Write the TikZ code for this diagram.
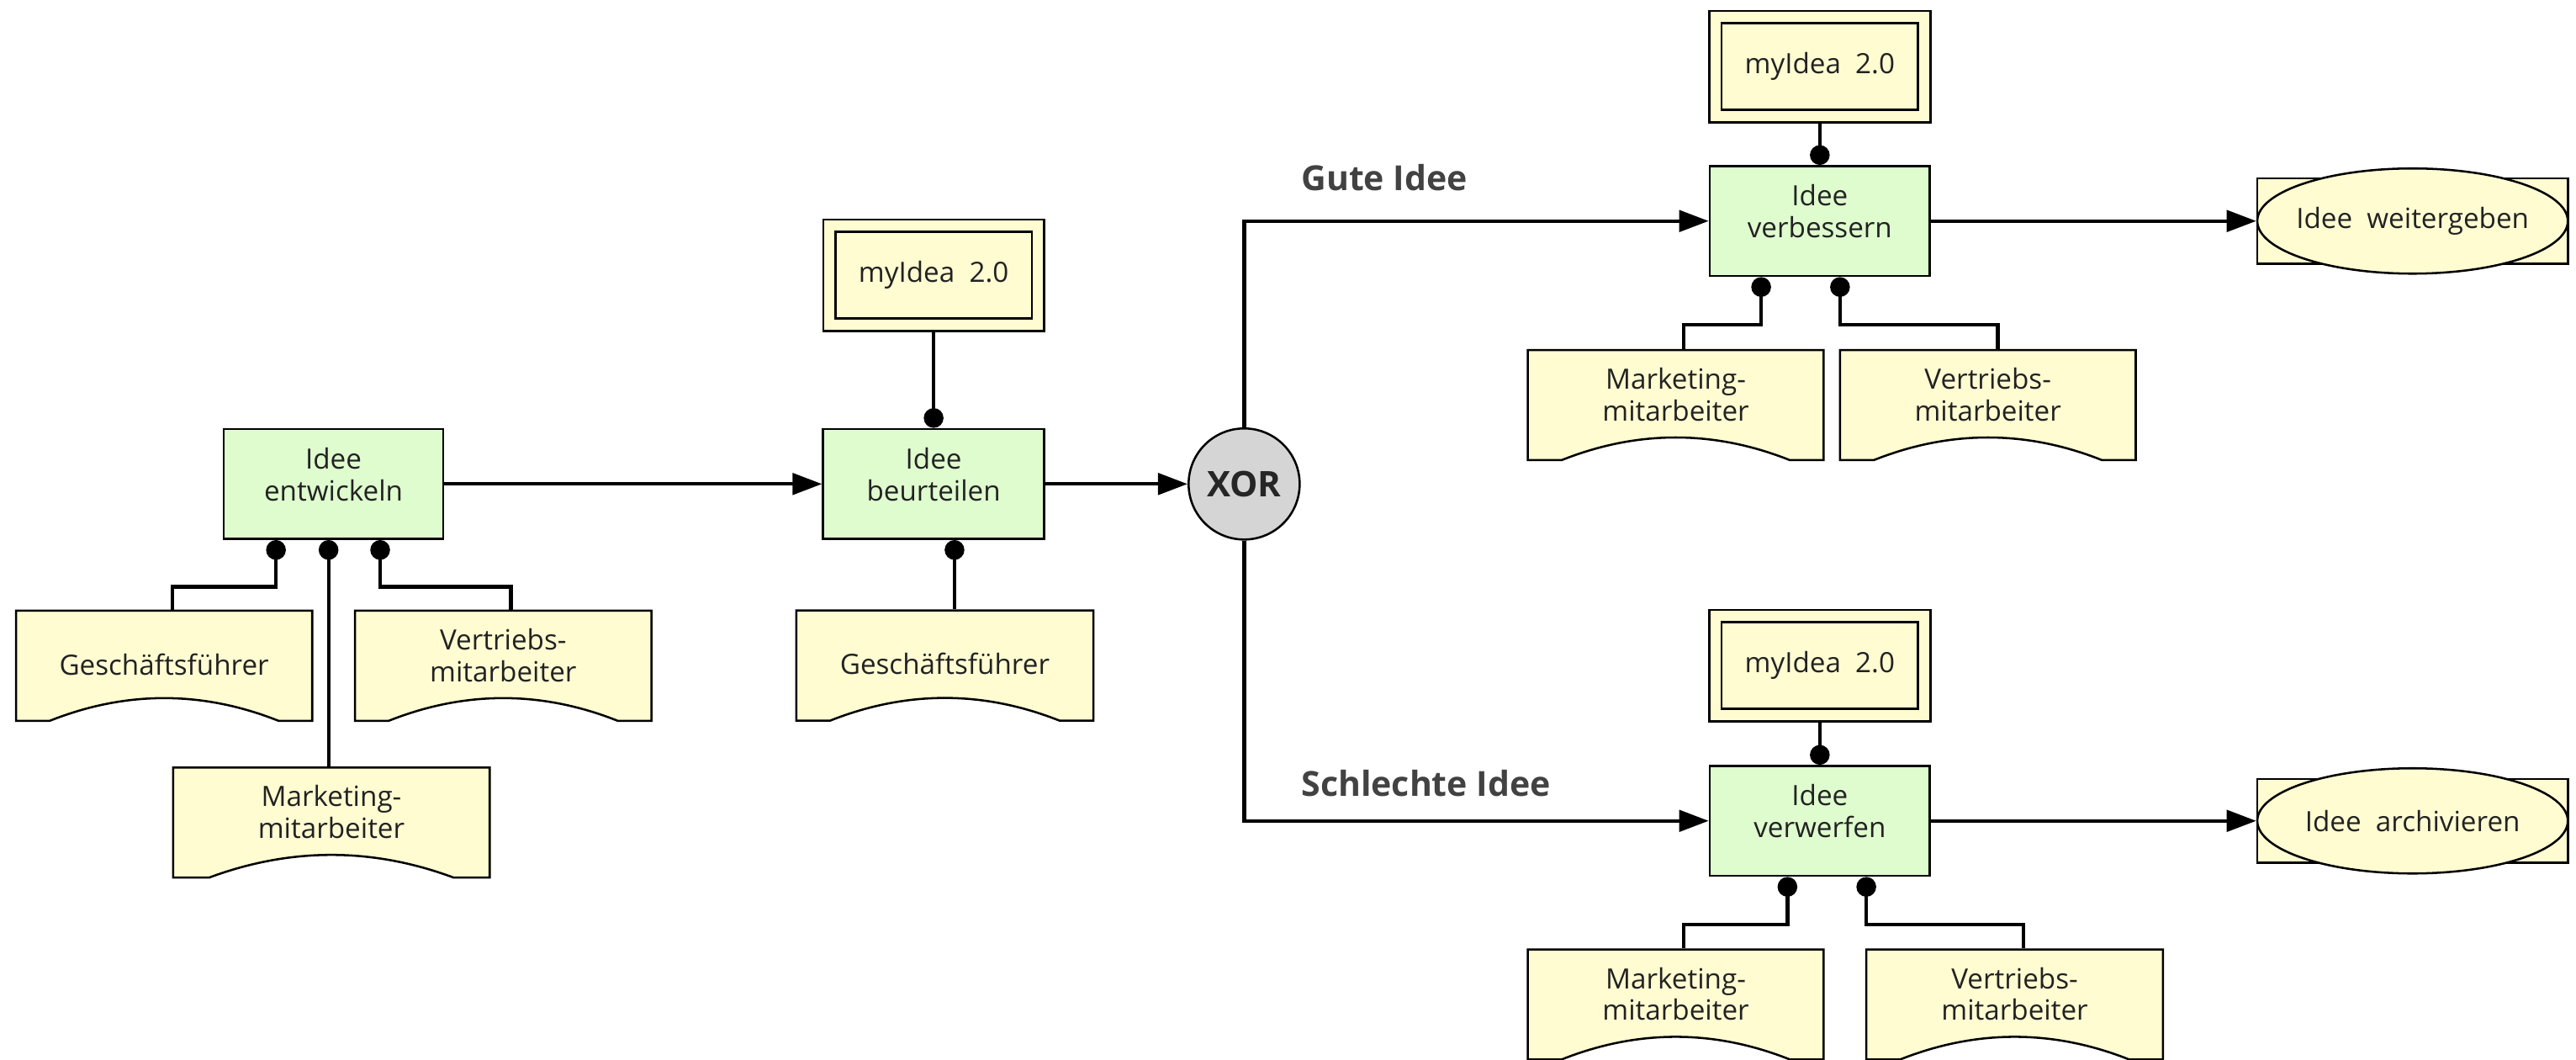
\documentclass[tikz,border=0pt]{standalone}
\usepackage{fontspec}
\setmainfont{Open Sans}
\usetikzlibrary{arrows.meta,shapes.geometric,calc}
\pgfdeclarelayer{bg}
\pgfsetlayers{bg,main}
\definecolor{fngreen}{HTML}{DFFCCF}
\definecolor{cream}{HTML}{FFFCD2}
\definecolor{gatefill}{HTML}{D5D5D5}
\definecolor{ink}{HTML}{222222}
\definecolor{labelgrey}{HTML}{424242}

% organisational unit: arched bottom edge drawn behind a named text node
% #1 name, #2 centre x, #3 top y, #4 width, #5 text depth, #6 label
\newcommand\orgunitbox[6]{%
  \begin{pgfonlayer}{bg}
    \path[orgshape] ({#2-#4/2},#3) -- ({#2+#4/2},#3) -- ({#2+#4/2},{#3+67})
      -- ({#2+0.386*#4},{#3+67})
      .. controls ({#2+0.129*#4},{#3+48.6}) and ({#2-0.129*#4},{#3+48.6}) .. ({#2-0.386*#4},{#3+67})
      -- ({#2-#4/2},{#3+67}) -- cycle;
  \end{pgfonlayer}
  \node[orgtext, minimum width=#4, text depth=#5] (#1) at (#2,{#3+33.5}) {#6};
}

\begin{document}
\begin{tikzpicture}[x=1pt,y=-1pt,
  txt/.style={font=\fontsize{17}{19.3}\selectfont, text=ink, align=center, inner sep=0pt},
  box/.style={txt, draw=black, line width=1.3pt},
  fn/.style={box, rectangle, fill=fngreen, minimum width=133.5pt, minimum height=67pt, text depth=12pt},
  datum/.style={box, rectangle, fill=cream, double=cream, double distance=6.2pt,
    minimum width=127pt, minimum height=60.2pt, outer sep=4.4pt},
  event/.style={box, ellipse, fill=cream, minimum width=189pt, minimum height=64pt, inner xsep=-30pt},
  evrect/.style={draw=black, line width=1.3pt, fill=cream},
  orgtext/.style={txt, rectangle, minimum height=67pt, outer sep=0.65pt},
  orgshape/.style={draw=black, line width=1.3pt, fill=cream},
  gate/.style={circle, draw=black, line width=1.3pt, fill=gatefill, minimum size=67.6pt,
    inner sep=0pt, text=black!85, font=\bfseries\fontsize{21.5}{24}\selectfont},
  flow/.style={line width=2.2pt, -{Triangle[length=18pt,width=13pt]}},
  assoc/.style={line width=2.2pt, -{Circle[length=12pt]}},
  branch/.style={font=\bfseries\fontsize{21}{24}\selectfont, text=labelgrey, inner sep=0pt, anchor=base west},
]
\begin{pgfonlayer}{bg}
  \fill[white] (0,0) rectangle (1568,645);
\end{pgfonlayer}
\useasboundingbox (0,0) rectangle (1568,645);

% functions
\node[fn] (fA) at (203,294.5) {Idee\\entwickeln};
\node[fn, minimum width=134.6pt] (fB) at (568.3,294.5) {Idee\\beurteilen};
\node[fn, minimum width=134pt] (fC) at (1107.7,134.5) {Idee\\verbessern};
\node[fn, minimum width=134pt] (fD) at (1107.7,499.5) {Idee\\verwerfen};

% connector
\node[gate] (xor) at (757.3,294.5) {XOR};

% information objects
\node[datum] (dB) at (568.3,167.5) {myIdea~~2.0};
\node[datum] (dC) at (1107.7,40.5) {myIdea~~2.0};
\node[datum] (dD) at (1107.7,405) {myIdea~~2.0};

% events
\node[event] (eC) at (1468.5,134.5) {Idee~~weitergeben};
\node[event] (eD) at (1468.5,499.5) {Idee~~archivieren};
\begin{pgfonlayer}{bg}
  \path[evrect] ($(eC.center)+(-94.5,-26)$) rectangle ($(eC.center)+(94.5,26)$);
  \path[evrect] ($(eD.center)+(-94.5,-25.5)$) rectangle ($(eD.center)+(94.5,25.5)$);
\end{pgfonlayer}

% organisational units
\orgunitbox{oA1}{99.9}{371.6}{180.3}{2pt}{Geschäftsführer}
\orgunitbox{oA2}{306.3}{371.6}{180.5}{13pt}{Vertriebs-\\mitarbeiter}
\orgunitbox{oA3}{201.7}{467}{192.7}{13pt}{Marketing-\\mitarbeiter}
\orgunitbox{oB}{575.1}{371.5}{180.8}{2pt}{Geschäftsführer}
\orgunitbox{oC1}{1020}{213}{180}{13pt}{Marketing-\\mitarbeiter}
\orgunitbox{oC2}{1210}{213}{180}{13pt}{Vertriebs-\\mitarbeiter}
\orgunitbox{oD1}{1020}{577.7}{180}{13pt}{Marketing-\\mitarbeiter}
\orgunitbox{oD2}{1226.3}{577.7}{180.6}{13pt}{Vertriebs-\\mitarbeiter}

% branch labels
\node[branch] (gut) at (792,116) {Gute Idee};
\node[branch] (schlecht) at (792,484.4) {Schlechte Idee};

% control flow
\draw[flow] (fA) -- (fB);
\draw[flow] (fB) -- (xor);
\draw[flow] (xor) |- (fC);
\draw[flow] (xor) |- (fD);
\draw[flow] (fC) -- (eC);
\draw[flow] (fD) -- (eD);

% bend points of the assignments
\coordinate (jA1) at (105,357);   \coordinate (jA1f) at (168,357);
\coordinate (jA2) at (311,357);   \coordinate (jA2f) at (231.4,357);
\coordinate (jA3) at (200,400);
\coordinate (jB)  at (581,350);
\coordinate (jC1) at (1025,197.5); \coordinate (jC1f) at (1072,197.5);
\coordinate (jC2) at (1216,197.5); \coordinate (jC2f) at (1120,197.5);
\coordinate (jD1) at (1025,562.7); \coordinate (jD1f) at (1088,562.7);
\coordinate (jD2) at (1231.6,562.7); \coordinate (jD2f) at (1136,562.7);

% assignments of units and data to functions
\draw[assoc] (oA1.north -| jA1) -- (jA1) -- (jA1f) -- (fA.south -| jA1f);
\draw[assoc] (oA2.north -| jA2) -- (jA2) -- (jA2f) -- (fA.south -| jA2f);
\draw[assoc] (oA3.north -| jA3) -- (fA.south -| jA3);
\draw[assoc] (oB.north -| jB) -- (fB.south -| jB);
\draw[assoc] (dB) -- (fB);
\draw[assoc] (dC) -- (fC);
\draw[assoc] (dD) -- (fD);
\draw[assoc] (oC1.north -| jC1) -- (jC1) -- (jC1f) -- (fC.south -| jC1f);
\draw[assoc] (oC2.north -| jC2) -- (jC2) -- (jC2f) -- (fC.south -| jC2f);
\draw[assoc] (oD1.north -| jD1) -- (jD1) -- (jD1f) -- (fD.south -| jD1f);
\draw[assoc] (oD2.north -| jD2) -- (jD2) -- (jD2f) -- (fD.south -| jD2f);
\end{tikzpicture}
\end{document}
